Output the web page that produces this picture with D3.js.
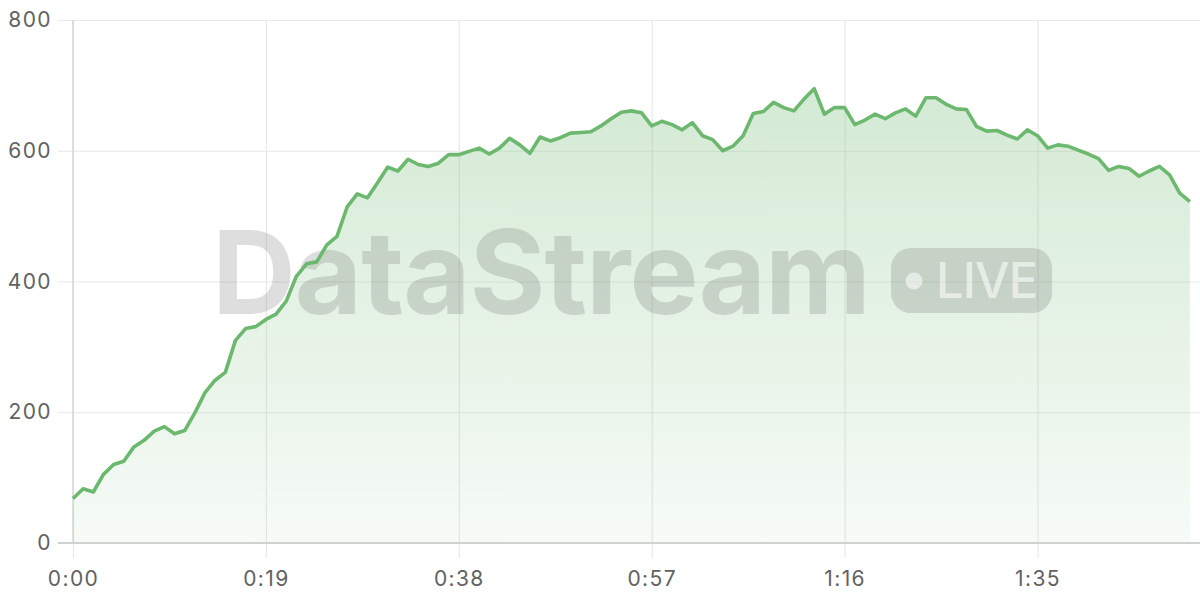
<!DOCTYPE html>
<html>
<head>
<meta charset="utf-8">
<script src="https://cdn.jsdelivr.net/npm/d3@7"></script>
<style>
  html, body { margin: 0; padding: 0; background: #fff; }
  svg { display: block; }
  text { font-family: Inter, "Noto Sans", sans-serif; }
</style>
</head>
<body>
<svg id="chart" width="1200" height="600"></svg>
<script>
// ---- data (one value per second, starting at 0:00) ----
const values = [
  68, 83, 78, 105, 120, 125, 147, 157, 171, 178,
  167, 172, 199, 230, 249, 261, 310, 328, 331, 342,
  350, 370, 408, 427, 430, 456, 469, 514, 534, 528,
  551, 575, 569, 587, 579, 576, 581, 594, 594, 599,
  604, 595, 604, 619, 609, 596, 621, 615, 620, 627,
  628, 629, 638, 649, 659, 661, 658, 638, 645, 640,
  632, 643, 623, 617, 600, 607, 623, 657, 660, 674,
  666, 661, 679, 695, 656, 666, 666, 640, 647, 656,
  649, 658, 664, 653, 681, 681, 671, 664, 663, 637,
  630, 631, 624, 618, 632, 623, 604, 609, 607, 601,
  595, 588, 570, 576, 573, 561, 569, 576, 563, 535,
  522
];
const xTickValues = [0, 19, 38, 57, 76, 95];
const xTickLabels = ["0:00", "0:19", "0:38", "0:57", "1:16", "1:35"];
const yTickValues = [0, 200, 400, 600, 800];
const watermarkText = "DataStream";
const badgeText = "LIVE";

(function () {
// ---- layout ----
const svg = d3.select("#chart");
const pL = 73, pR = 1200, pT = 20, pB = 543;
const x = d3.scaleLinear().domain([0, 111]).range([pL, pR]);
const y = d3.scaleLinear().domain([0, 800]).range([pB, pT]);
const lineColor = "#6db86f";
const labelColor = "#626262";

const defs = svg.append("defs");
const grad = defs.append("linearGradient")
  .attr("id", "areaGrad")
  .attr("gradientUnits", "userSpaceOnUse")
  .attr("x1", 0).attr("x2", 0)
  .attr("y1", y(700)).attr("y2", y(0));
grad.append("stop").attr("offset", 0).attr("stop-color", lineColor).attr("stop-opacity", 0.3);
grad.append("stop").attr("offset", 1).attr("stop-color", lineColor).attr("stop-opacity", 0.06);

// horizontal grid + y labels
const yAxis = d3.axisLeft(y).tickValues(yTickValues).tickSize(15).tickPadding(6)
  .tickSizeOuter(0);
const gy = svg.append("g").attr("transform", `translate(${pL},0)`).call(yAxis);
gy.select(".domain").remove();
gy.selectAll(".tick line")
  .attr("x2", pR - pL)
  .attr("x1", -15)
  .attr("stroke", "#e9e9e9").attr("stroke-width", 1.2);
gy.selectAll(".tick text")
  .attr("fill", labelColor).attr("font-size", 21).attr("letter-spacing", 1.4)
  .attr("x", -21)
  .attr("font-family", "Inter, sans-serif");

// vertical grid + x labels
const xAxis = d3.axisBottom(x).tickValues(xTickValues)
  .tickFormat((d, i) => xTickLabels[i]).tickSize(15).tickPadding(13).tickSizeOuter(0);
const gx = svg.append("g").attr("transform", `translate(0,${pB})`).call(xAxis);
gx.select(".domain").remove();
gx.selectAll(".tick line")
  .attr("y1", -(pB - pT)).attr("y2", 15)
  .attr("stroke", "#e9e9e9").attr("stroke-width", 1.2);
gx.selectAll(".tick text")
  .attr("fill", labelColor).attr("font-size", 21).attr("letter-spacing", 1.4)
  .attr("font-family", "Inter, sans-serif");

// y axis line
svg.append("line").attr("x1", pL).attr("x2", pL).attr("y1", pT).attr("y2", pB)
  .attr("stroke", "#d4d4d4").attr("stroke-width", 1.5);
// area
const area = d3.area().x((d, i) => x(i)).y0(y(0)).y1(d => y(d));
svg.append("path").datum(values).attr("d", area).attr("fill", "url(#areaGrad)");

// baseline
svg.append("line").attr("x1", 58).attr("x2", pR).attr("y1", pB).attr("y2", pB)
  .attr("stroke", "#cfd3cf").attr("stroke-width", 2);

// watermark
const wm = svg.append("g").attr("pointer-events", "none");
const wmText = wm.append("text")
  .attr("x", 212).attr("y", 314)
  .attr("font-family", "Inter, sans-serif")
  .attr("font-weight", 700)
  .attr("font-size", 116)
  .attr("letter-spacing", -1)
  .attr("fill", "rgba(80,80,80,0.19)")
  .text(watermarkText);
const wlen = wmText.node().getComputedTextLength();
if (wlen > 0) {
  wmText.attr("font-size", 116 * 658 / wlen);
}
wm.append("rect")
  .attr("x", 891).attr("y", 248).attr("width", 161).attr("height", 65)
  .attr("rx", 20).attr("ry", 20)
  .attr("fill", "rgba(80,80,80,0.19)");
wm.append("circle").attr("cx", 914).attr("cy", 281).attr("r", 8.5)
  .attr("fill", "rgba(255,255,255,0.55)");
wm.append("text")
  .attr("x", 936).attr("y", 298)
  .attr("font-family", "Inter, sans-serif")
  .attr("font-weight", 500)
  .attr("font-size", 49)
  .attr("letter-spacing", -1)
  .attr("fill", "rgba(255,255,255,0.55)")
  .text(badgeText);

// line
const line = d3.line().x((d, i) => x(i)).y(d => y(d));
svg.append("path").datum(values).attr("d", line)
  .attr("fill", "none").attr("stroke", lineColor).attr("stroke-width", 3.6)
  .attr("stroke-linejoin", "round");
})();
</script>
</body>
</html>
